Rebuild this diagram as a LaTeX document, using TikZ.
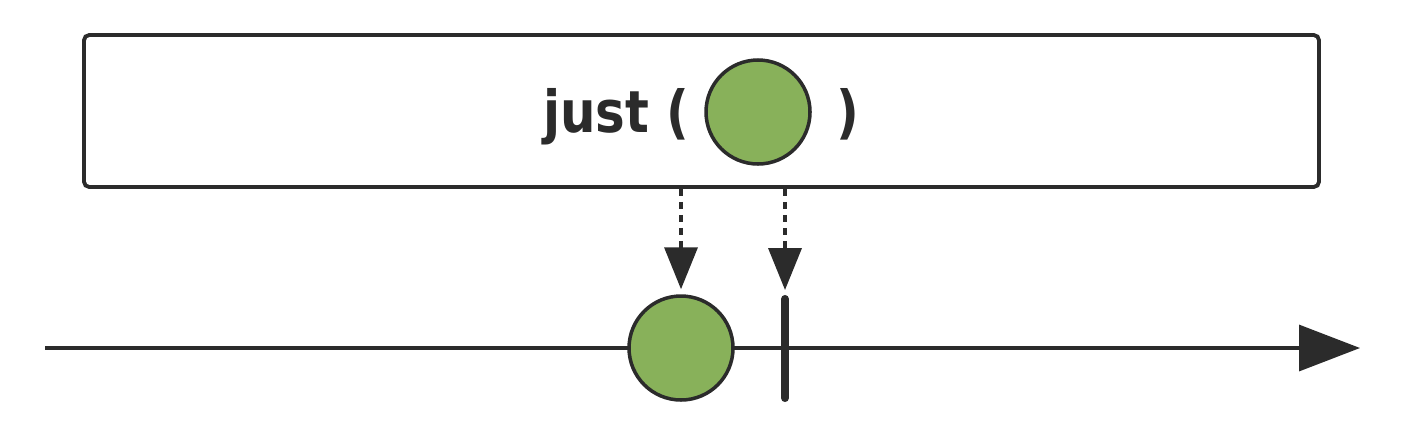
\documentclass[tikz,border=0pt]{standalone}
\usepackage{fontspec}
\usepackage{xcolor}
\usepackage{tikz}
\usetikzlibrary{arrows.meta, positioning}
\newfontfamily\justfont[FakeStretch=0.86]{DejaVu Sans}
\definecolor{ink}{HTML}{2B2B2B}
\definecolor{itemgreen}{HTML}{88B15A}

\begin{document}
\begin{tikzpicture}[
    fnbox/.style={rectangle, draw=ink, line width=1.1pt, rounded corners=1.5pt,
                  minimum width=12.35cm, minimum height=1.52cm},
    fnlabel/.style={inner sep=0pt, text=ink, font=\justfont\bfseries\fontsize{16.5}{18}\selectfont},
    item/.style={circle, draw=ink, fill=itemgreen, line width=1pt,
                 minimum size=1.04cm, inner sep=0pt},
    emit/.style={-{Triangle[length=0.42cm, width=0.33cm]}, ink, line width=1.05pt,
                 dash pattern=on 0.07cm off 0.06cm},
    timeline/.style={-{Triangle[length=0.61cm, width=0.46cm]}, ink, line width=0.95pt},
    complete/.style={ink, line width=2.3pt, line cap=round},
]
\useasboundingbox (0,0) rectangle (14.24,4.32);

% Operator box
\node[fnbox] (box) at (7.015,3.21) {};
\node[fnlabel, anchor=base east] (just) at (6.90,3.00) {just (};
\node[item] (arg) at (7.58,3.20) {};
\node[fnlabel, anchor=base west] (rparen) at (8.36,3.00) {)};

% Output timeline
\coordinate (tstart) at (0.45,0.84);
\coordinate (tend)   at (13.60,0.84);
\draw[timeline] (tstart) -- (tend);

\node[item] (out) at (6.81,0.84) {};
\coordinate (bartop) at (7.85,1.33);
\coordinate (barbot) at (7.85,0.34);
\draw[complete] (bartop) -- (barbot);

% Emissions
\draw[emit, shorten >=0.05cm] (box.south -| out) -- (out.north);
\draw[emit, shorten >=0.09cm] (box.south -| bartop) -- (bartop);

\end{tikzpicture}
\end{document}
